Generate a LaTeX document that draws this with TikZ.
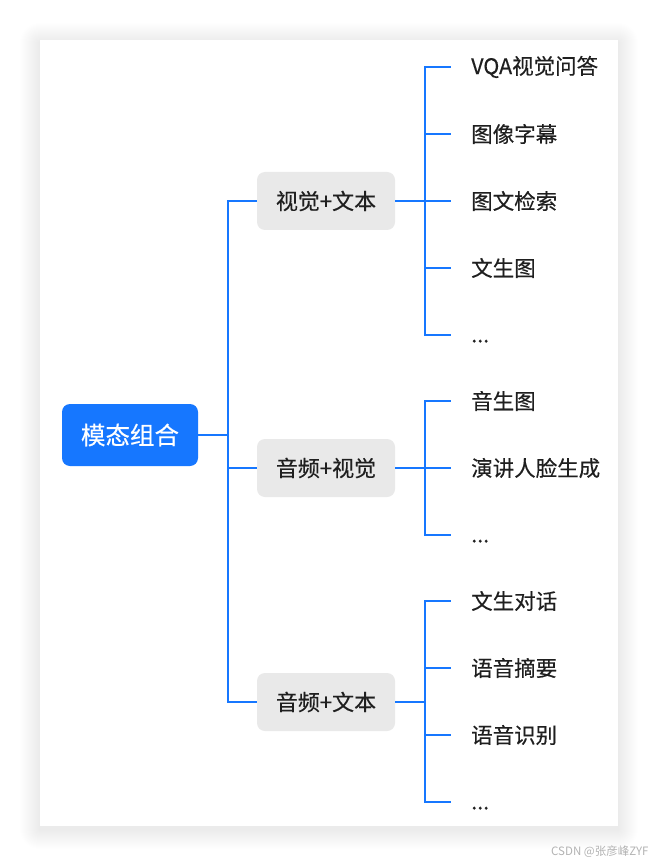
\documentclass[tikz,border=0pt]{standalone}
\usepackage{fontspec}
\newfontfamily\cjk[FakeBold=0.35]{Noto Sans CJK SC}
\newfontfamily\cjkthin{Noto Sans CJK SC}
\usetikzlibrary{positioning}
\definecolor{lineblue}{RGB}{22,119,255}
\definecolor{topicgray}{RGB}{233,233,233}
\definecolor{ink}{RGB}{31,31,31}
\newcommand\moredots{\raisebox{-6pt}[\height][0pt]{...}}

\begin{document}
\begin{tikzpicture}[x=1pt,y=-1pt,every node/.style={font=\cjk\fontsize{21.5}{26}\selectfont,text=ink},
  root/.style={fill=lineblue,text=white,rounded corners=8pt,minimum width=136pt,minimum height=62pt,font=\cjk\fontsize{24.5}{29}\selectfont},
  topic/.style={fill=topicgray,rounded corners=8pt,minimum width=138pt,minimum height=58pt,font=\cjk\fontsize{22}{26}\selectfont},
  leaf/.style={anchor=west,inner xsep=20pt,inner ysep=0pt},
  link/.style={draw=lineblue,line width=2pt}]
\useasboundingbox (0,0) rectangle (658,866);
% card with a soft shadow
\foreach \s in {1,...,20}
  \fill[black,opacity=0.004,rounded corners=\s pt] (40-\s,40-\s+3) rectangle (618+\s,826+\s+3);
\fill[white] (40,40) rectangle (618,826);

\node[root] (mix) at (130,435) {模态组合};
\node[topic] (vt) at (326,201) {视觉+文本};
\node[topic] (av) at (326,468) {音频+视觉};
\node[topic] (at) at (326,702) {音频+文本};

\draw[link] (mix.east) -- ++(30,0) coordinate (hub);
\foreach \t in {vt,av,at} \draw[link] (hub) |- (\t.west);

% leaves
\foreach \t/\y/\txt in {vt/67/VQA视觉问答,vt/134/图像字幕,vt/201/图文检索,vt/268/文生图,vt/335/\moredots,
                        av/401/音生图,av/468/演讲人脸生成,av/535/\moredots,
                        at/601/文生对话,at/668/语音摘要,at/735/语音识别,at/802/\moredots}
  \node[leaf] (\t-\y) at (451,\y) {\txt};
\foreach \t in {vt,av,at} \draw[link] (\t.east) -- ++(30,0) coordinate (\t-bus);
\foreach \t/\y in {vt/67,vt/134,vt/201,vt/268,vt/335,av/401,av/468,av/535,at/601,at/668,at/735,at/802}
  \draw[link] (\t-bus) |- (\t-\y.west);

\node[anchor=east,text=black!30,font=\cjkthin\fontsize{11.5}{14}\selectfont] (mark) at (652,852) {CSDN @张彦峰ZYF};
\end{tikzpicture}
\end{document}
